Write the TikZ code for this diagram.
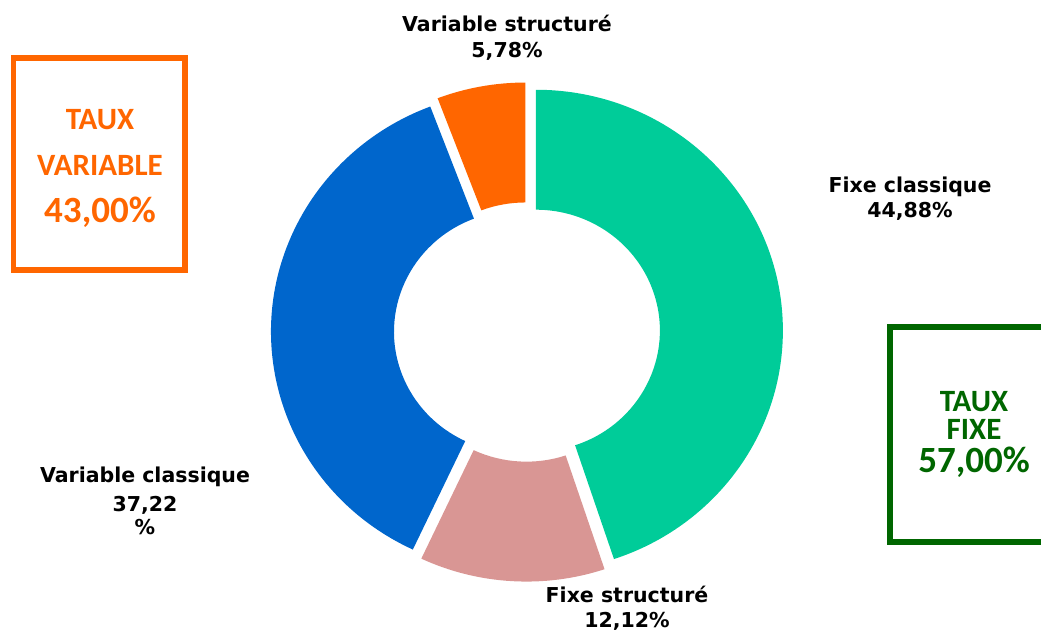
\documentclass[tikz,border=0pt]{standalone}
\usepackage{fontspec}
\setmainfont{DejaVu Sans}
\newfontfamily\calibri{Carlito}
\usetikzlibrary{positioning}

\definecolor{fixecl}{HTML}{00CC99}
\definecolor{fixest}{HTML}{D99694}
\definecolor{varcl}{HTML}{0066CC}
\definecolor{varst}{HTML}{FF6600}
\definecolor{tauxvar}{HTML}{FF6600}
\definecolor{tauxfixe}{HTML}{006600}

\tikzset{
  partlabel/.style={font=\bfseries\fontsize{20.5}{24}\selectfont, align=center, anchor=base},
  boxtext/.style={font=\calibri\bfseries\fontsize{31}{34}\selectfont, anchor=base},
  boxrate/.style={font=\calibri\bfseries\fontsize{37}{40}\selectfont, anchor=base}
}

\begin{document}
\begin{tikzpicture}[x=1pt,y=1pt]
\useasboundingbox (0,0) rectangle (1041,634);
%\draw[gray,very thin] (0,0) grid[step=50] (1041,634);

% donut, exploded slices
\begin{scope}[shift={(527,302)}, yscale=0.975]
\foreach \a/\b/\c in {90/-71.57/fixecl, -71.57/-115.2/fixest, -115.2/-249.19/varcl, -249.19/-270/varst}
{
  \pgfmathsetmacro\m{(\a+\b)/2}
  \fill[\c, shift={(\m:9)}] (\a:247) arc[start angle=\a, end angle=\b, radius=247]
    -- (\b:124) arc[start angle=\b, end angle=\a, radius=124] -- cycle;
}
\end{scope}

% slice labels
\node[partlabel] (vsname) at (507,602) {Variable structuré};
\node[partlabel] (vsval) at (507,576) {5,78\%};
\node[partlabel] (fcname) at (910,441) {Fixe classique};
\node[partlabel] (fcval) at (910,416) {44,88\%};
\node[partlabel] (vcname) at (145,151) {Variable classique};
\node[partlabel] (vcval) at (145,122) {37,22};
\node[partlabel] (vcpct) at (145,99) {\%};
\node[partlabel] (fsname) at (627,31) {Fixe structuré};
\node[partlabel] (fsval) at (627,6) {12,12\%};

% taux variable
\draw[tauxvar, line width=5.5pt] (13.5,576) rectangle (185,364);
\node[boxtext, tauxvar] (tvtitle) at (100,504) {TAUX};
\node[boxtext, tauxvar] (tvword) at (100,458) {VARIABLE};
\node[boxrate, tauxvar] (tvrate) at (100,411) {43,00\%};

% taux fixe
\draw[tauxfixe, line width=5.5pt] (890,307) rectangle (1060,92);
\node[boxtext, tauxfixe] (tftitle) at (974,222) {TAUX};
\node[boxtext, tauxfixe] (tfword) at (974,194) {FIXE};
\node[boxrate, tauxfixe] (tfrate) at (974,161) {57,00\%};
\end{tikzpicture}
\end{document}
